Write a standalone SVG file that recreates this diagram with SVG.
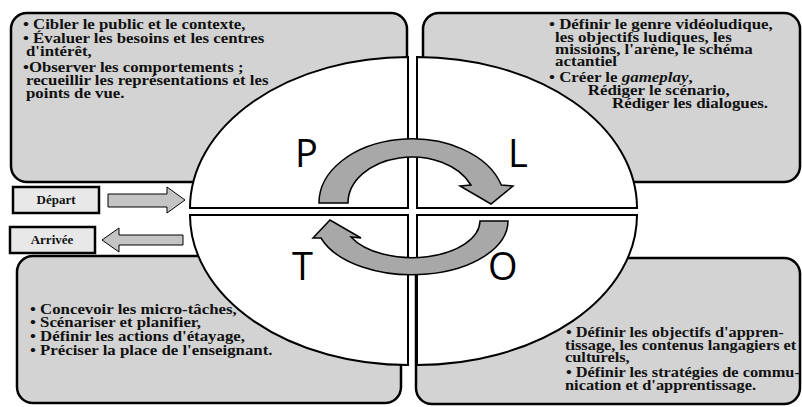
<svg xmlns="http://www.w3.org/2000/svg" width="802" height="407" viewBox="0 0 802 407">
<style>
.box{fill:#d3d3d3;stroke:#000;stroke-width:2.5}
.quad{fill:#fff;stroke:#000;stroke-width:2}
.t{font-family:"Liberation Serif","Times New Roman",serif;font-weight:bold;font-size:14px;fill:#111}
.lab{font-family:"Open Sans","Liberation Sans",sans-serif;font-size:38px;fill:#000}
.tag{fill:#e8e8e8;stroke:#000;stroke-width:2.5}
.tagt{font-family:"Liberation Serif","Times New Roman",serif;font-weight:bold;font-size:13px;fill:#111;text-anchor:middle}
.sarrow{fill:#c4c4c4;stroke:#000;stroke-width:1}
.carrow{fill:#a8a8a8;stroke:#000;stroke-width:1.5;stroke-linejoin:miter}
</style>
<rect width="802" height="407" fill="#fff"/>
<g id="box-P">
<rect class="box" x="11" y="13" width="396" height="169" rx="16"/>
<g transform="translate(23,0) scale(1.2,1)">
<text class="t" x="0" y="29">• Cibler le public et le contexte,</text>
<text class="t" x="0" y="43">• Évaluer les besoins et les centres</text>
<text class="t" x="2.5" y="56">d'intérêt,</text>
<text class="t" x="0" y="72">•Observer les comportements ;</text>
<text class="t" x="2.5" y="85">recueillir les représentations et les</text>
<text class="t" x="2.5" y="98">points de vue.</text>
</g>
</g>
<g id="box-L">
<rect class="box" x="423" y="13" width="377" height="169" rx="16"/>
<g transform="translate(549,0) scale(1.21,1)">
<text class="t" x="0" y="29">• Définir le genre vidéoludique,</text>
<text class="t" x="5" y="42">les objectifs ludiques, les</text>
<text class="t" x="5" y="54">missions, l'arène, le schéma</text>
<text class="t" x="5" y="66">actantiel</text>
<text class="t" x="0" y="82">• Créer le <tspan font-style="italic">gameplay</tspan>,</text>
<text class="t" x="32" y="95">Rédiger le scénario,</text>
<text class="t" x="52" y="108">Rédiger les dialogues.</text>
</g>
</g>
<g id="box-T">
<rect class="box" x="17" y="256" width="384" height="147" rx="16"/>
<g transform="translate(30,0) scale(1.2,1)">
<text class="t" x="0" y="314">• Concevoir les micro-tâches,</text>
<text class="t" x="0" y="327">• Scénariser et planifier,</text>
<text class="t" x="0" y="341">• Définir les actions d'étayage,</text>
<text class="t" x="0" y="355">• Préciser la place de l'enseignant.</text>
</g>
</g>
<g id="box-O">
<rect class="box" x="416" y="258" width="384" height="146" rx="16"/>
<g transform="translate(565,0) scale(1.17,1)">
<text class="t" x="0.8" y="337">• Définir les objectifs d'appren-</text>
<text class="t" x="0" y="350">tissage, les contenus langagiers et</text>
<text class="t" x="0" y="362">culturels,</text>
<text class="t" x="0.8" y="377">• Définir les stratégies de commu-</text>
<text class="t" x="0" y="390">nication et d'apprentissage.</text>
</g>
</g>
<g id="quad-P"><path class="quad" d="M408,208 L190,208 A218 151 0 0 1 408,57 Z"/></g>
<g id="quad-L"><path class="quad" d="M417,208 L417,57 A220 151 0 0 1 637,208 Z"/></g>
<g id="quad-O"><path class="quad" d="M417,215 L637,215 A220 150 0 0 1 417,365 Z"/></g>
<g id="quad-T"><path class="quad" d="M408,215 L408,365 A218 150 0 0 1 190,215 Z"/></g>
<g id="letters">
<text class="lab" x="295" y="167">P</text>
<text class="lab" x="508" y="167">L</text>
<text class="lab" x="292" y="280">T</text>
<text class="lab" x="488" y="280">O</text>
</g>
<g id="depart">
<rect class="tag" x="13" y="187" width="86" height="26"/>
<text class="tagt" x="56" y="204">Départ</text>
</g>
<g id="arrivee">
<rect class="tag" x="10" y="227" width="85" height="26"/>
<text class="tagt" x="52" y="244">Arrivée</text>
</g>
<g id="connectors">
<path class="sarrow" d="M108,194 L167,194 L167,187 L185,200 L167,213 L167,207 L108,207 Z"/>
<path class="sarrow" d="M183,235 L119,235 L119,228 L102,240 L119,252 L119,245 L183,245 Z"/>
<path class="carrow" d="M319,203 A93 64 0 0 1 501.3,185 L513,186 L491,204 L460,186 L470.9,185 A64 46 0 0 0 348,203 Z"/>
<path class="carrow" d="M508,221 A96 54 0 0 1 321,238 L313,238 L330,220 L361,238 L351,237 A68 37 0 0 0 480,221 Z"/>
</g>
</svg>
